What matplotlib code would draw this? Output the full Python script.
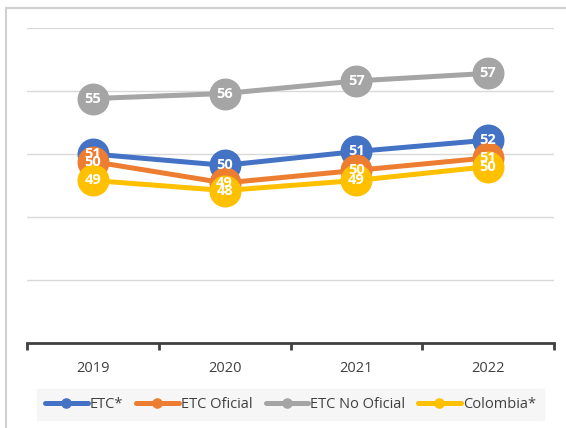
import numpy as np
import matplotlib.pyplot as plt
from matplotlib.patches import Rectangle

years = ["2019", "2020", "2021", "2022"]
etc = [51.0, 50.1, 51.2, 52.1]
etc_oficial = [50.4, 48.7, 49.7, 50.7]
etc_no_oficial = [55.4, 55.8, 56.8, 57.4]
colombia = [48.9, 48.1, 48.9, 50.0]

series = [
    ("ETC*", etc, "#4472C4"),
    ("ETC Oficial", etc_oficial, "#ED7D31"),
    ("ETC No Oficial", etc_no_oficial, "#A5A5A5"),
    ("Colombia*", colombia, "#FFC000"),
]

plt.rcParams['font.family'] = ['Open Sans', 'DejaVu Sans']

W, H = 566, 428
fig = plt.figure(figsize=(W / 100, H / 100), dpi=100)

# outer chart frame (cut off at right/bottom like the source)
fig.patches.append(Rectangle((5.5 / W, -0.1), 2.0, 1 - 7.5 / H + 0.1,
                             transform=fig.transFigure, fill=False,
                             edgecolor="#d0d0d0", linewidth=1.5))

ax = fig.add_axes([27 / W, 1 - 343 / H, (554 - 27) / W, (343 - 28) / H])
x = np.arange(len(years))

for name, vals, col in series:
    ax.plot(x, vals, color=col, linewidth=3.6, marker="o", markersize=22,
            label=name, solid_capstyle="round", zorder=3)

for name, vals, col in series:
    for xi, v in zip(x, vals):
        ax.text(xi, v, f"{v:.0f}", ha="center", va="center", color="white",
                fontsize=10.5, fontweight="bold", zorder=10)

ax.set_xlim(-0.5, 3.5)
ax.set_ylim(36, 61)
ax.set_yticks([41, 46, 51, 56, 61])
ax.yaxis.grid(True, color="#d9d9d9", linewidth=1.0)
ax.set_axisbelow(True)
ax.tick_params(axis="y", left=False, labelleft=False)

ax.set_xticks(x)
ax.set_xticklabels(years, fontsize=10.5, color="#404040")
ax.set_xticks([-0.5, 0.5, 1.5, 2.5, 3.5], minor=True)
ax.tick_params(axis="x", which="major", length=0, pad=13)
ax.tick_params(axis="x", which="minor", length=5, width=2, color="#404040", direction="out")

for s in ["top", "right", "left"]:
    ax.spines[s].set_visible(False)
ax.spines["bottom"].set_color("#404040")
ax.spines["bottom"].set_linewidth(2)

handles, labels = ax.get_legend_handles_labels()
leg = fig.legend(handles, labels, loc="center",
                 bbox_to_anchor=((34 + 547) / 2 / W, 1 - 404.5 / H),
                 ncol=4, frameon=True, fontsize=10.5, handlelength=2.9,
                 handletextpad=0.15, columnspacing=0.9, borderpad=0.55,
                 markerscale=0.3)
leg.get_frame().set_facecolor("#f4f4f4")
leg.get_frame().set_edgecolor("#f4f4f4")
leg.get_frame().set_boxstyle("square", pad=0)
for line in leg.get_lines():
    line.set_linewidth(3.6)
for t in leg.get_texts():
    t.set_color("#404040")

fig.savefig("out.png", dpi=100)
